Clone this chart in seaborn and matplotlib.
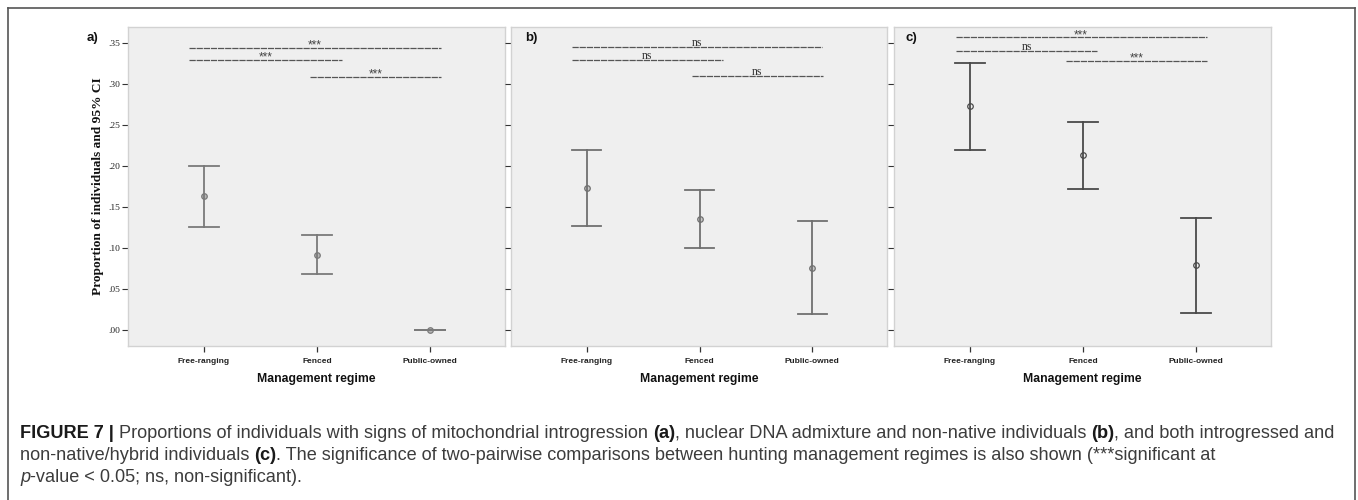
import matplotlib
matplotlib.use("Agg")
import matplotlib.pyplot as plt
import seaborn as sns
import pandas as pd
import numpy as np
from matplotlib.lines import Line2D

# ---------------- data ----------------
categories = ["Free-ranging", "Fenced", "Public-owned"]
panel_labels = ["a)", "b)", "c)"]

mean_a = [0.163, 0.092, 0.000]
lower_a = [0.126, 0.068, 0.000]
upper_a = [0.200, 0.116, 0.000]

mean_b = [0.173, 0.135, 0.076]
lower_b = [0.127, 0.100, 0.019]
upper_b = [0.219, 0.171, 0.133]

mean_c = [0.273, 0.213, 0.079]
lower_c = [0.220, 0.172, 0.021]
upper_c = [0.326, 0.254, 0.137]

ytick_values = [0.00, 0.05, 0.10, 0.15, 0.20, 0.25, 0.30, 0.35]
ytick_labels = [".00", ".05", ".10", ".15", ".20", ".25", ".30", ".35"]

# pairwise comparisons (category index i, category index j)
sig_pairs = [(0, 2), (0, 1), (1, 2)]
sig_labels_a = ["***", "***", "***"]
sig_labels_b = ["ns", "ns", "ns"]
sig_labels_c = ["***", "ns", "***"]
sig_level_a = [0.344, 0.329, 0.309]
sig_level_b = [0.345, 0.329, 0.310]
sig_level_c = [0.357, 0.340, 0.328]

y_label = "Proportion of individuals and 95% CI"
x_label = "Management regime"

# ---------------- layout / style ----------------
W, H = 1358, 500
panel_px = [(128, 505), (511, 887), (894, 1271)]
ax_top_px, ax_bot_px = 27, 346
ylim = (-0.0195, 0.3695)
xlim = (-0.673, 2.664)
bracket_x = {
    "a": [(-0.133, 2.094), (-0.133, 1.218), (0.94, 2.094)],
    "b": [(-0.136, 2.085), (-0.136, 1.209), (0.931, 2.095)],
    "c": [(-0.127, 2.094), (-0.127, 1.126), (0.852, 2.098)],
}
err_colors = ["#7a7a7a", "#707070", "#4a4a4a"]
face_colors = ["#b5b5b5", "#c8c8c8", "#efefef"]

panels = [
    ("a", mean_a, lower_a, upper_a, sig_labels_a, sig_level_a),
    ("b", mean_b, lower_b, upper_b, sig_labels_b, sig_level_b),
    ("c", mean_c, lower_c, upper_c, sig_labels_c, sig_level_c),
]

fig = plt.figure(figsize=(W / 100, H / 100), dpi=100)
fig.patch.set_facecolor("white")

SERIF = ["Liberation Serif", "DejaVu Serif"]
SANS = ["Liberation Sans", "DejaVu Sans"]

for k, (key, mean, lower, upper, sig_labels, sig_levels) in enumerate(panels):
    x0, x1 = panel_px[k]
    ax = fig.add_axes([x0 / W, 1 - ax_bot_px / H, (x1 - x0) / W, (ax_bot_px - ax_top_px) / H])
    ax.set_facecolor("#efefef")

    df = pd.DataFrame({
        "regime": np.repeat(categories, 3),
        "value": np.ravel(np.column_stack([lower, mean, upper])),
    })
    sns.pointplot(
        data=df, x="regime", y="value", order=categories,
        estimator="median", errorbar=lambda v: (v.min(), v.max()),
        linestyle="none", marker="o", color=err_colors[k],
        capsize=0.26, err_kws={"linewidth": 1.3},
        markersize=4, markeredgewidth=0.9, markerfacecolor=face_colors[k],
        ax=ax,
    )

    ax.set_xlim(*xlim)
    ax.set_ylim(*ylim)
    ax.set_yticks(ytick_values)
    for s in ax.spines.values():
        s.set_color("#d2d2d2")
        s.set_linewidth(1.0)

    ax.tick_params(axis="y", direction="out", length=4.5, width=0.8, color="#333333",
                   labelsize=6.8, pad=1, labelcolor="#222222")
    ax.tick_params(axis="x", direction="out", length=4.5, width=0.9, color="#333333",
                   labelsize=6, pad=4)
    ax.set_xticks(range(len(categories)))
    ax.set_xticklabels(categories, fontweight="bold", family=SANS, color="#222222")
    if k == 0:
        ax.set_yticklabels(ytick_labels, family=SERIF)
        ax.set_ylabel(y_label, family=SERIF, fontweight="bold", fontsize=9.6, color="#111111")
        ax.yaxis.set_label_coords(-(128 - 104) / (x1 - x0), 0.5)
    else:
        ax.set_yticklabels([])
        ax.set_ylabel("")
    ax.set_xlabel(x_label, family=SANS, fontweight="bold", fontsize=8.8, color="#111111")
    ax.xaxis.set_label_coords(0.5, -(373 - ax_bot_px) / (ax_bot_px - ax_top_px))

    # significance brackets
    for (xa, xb), lab, lev in zip(bracket_x[key], sig_labels, sig_levels):
        ax.plot([xa, xb], [lev, lev], color="#555555", linewidth=0.9,
                linestyle=(0, (5, 0.7)), solid_capstyle="butt")
        if lab == "ns":
            ax.annotate(lab, xy=((xa + xb) / 2, lev), xytext=(0, 0.8), textcoords="offset points",
                        ha="center", va="baseline", fontsize=8.4, family=SERIF, color="#333333")
        else:
            ax.annotate(lab, xy=((xa + xb) / 2, lev), xytext=(0, -0.5), textcoords="offset points",
                        ha="center", va="baseline", fontsize=8.5, family=SANS, color="#444444")

# panel letters
for lab, px in zip(panel_labels, [87, 525, 905]):
    fig.text(px / W, 1 - 38 / H, lab, ha="left", va="center", fontsize=9.5,
             fontweight="bold", family=SANS, color="#111111")

# outer frame (open at the bottom)
frame_kw = dict(color="#555555", linewidth=1.2, transform=fig.transFigure)
fig.add_artist(Line2D([7.5 / W, 7.5 / W], [0, 1 - 8 / H], **frame_kw))
fig.add_artist(Line2D([1355 / W, 1355 / W], [0, 1 - 8 / H], **frame_kw))
fig.add_artist(Line2D([7.5 / W, 1355 / W], [1 - 8 / H, 1 - 8 / H], **frame_kw))

# caption with mixed styles
caption_lines = [
    [("FIGURE 7 | ", "bold", "normal"),
     ("Proportions of individuals with signs of mitochondrial introgression ", "normal", "normal"),
     ("(a)", "bold", "normal"),
     (", nuclear DNA admixture and non-native individuals ", "normal", "normal"),
     ("(b)", "bold", "normal"),
     (", and both introgressed and", "normal", "normal")],
    [("non-native/hybrid individuals ", "normal", "normal"),
     ("(c)", "bold", "normal"),
     (". The significance of two-pairwise comparisons between hunting management regimes is also shown (***significant at", "normal", "normal")],
    [("p", "normal", "italic"),
     ("-value < 0.05; ns, non-significant).", "normal", "normal")],
]
caption_y = [433, 455, 477]
cap_size = 13.1
fig.canvas.draw()
renderer = fig.canvas.get_renderer()
for line, ypx in zip(caption_lines, caption_y):
    xpx = 20
    for txt, weight, style in line:
        t = fig.text(xpx / W, 1 - ypx / H, txt, ha="left", va="center", fontsize=cap_size,
                     fontweight=weight, fontstyle=style, family=SANS,
                     color="#1a1a1a" if weight == "bold" else "#3c3c3c")
        bb = t.get_window_extent(renderer=renderer)
        xpx += bb.width

fig.savefig("out.png", dpi=100, facecolor="white")
